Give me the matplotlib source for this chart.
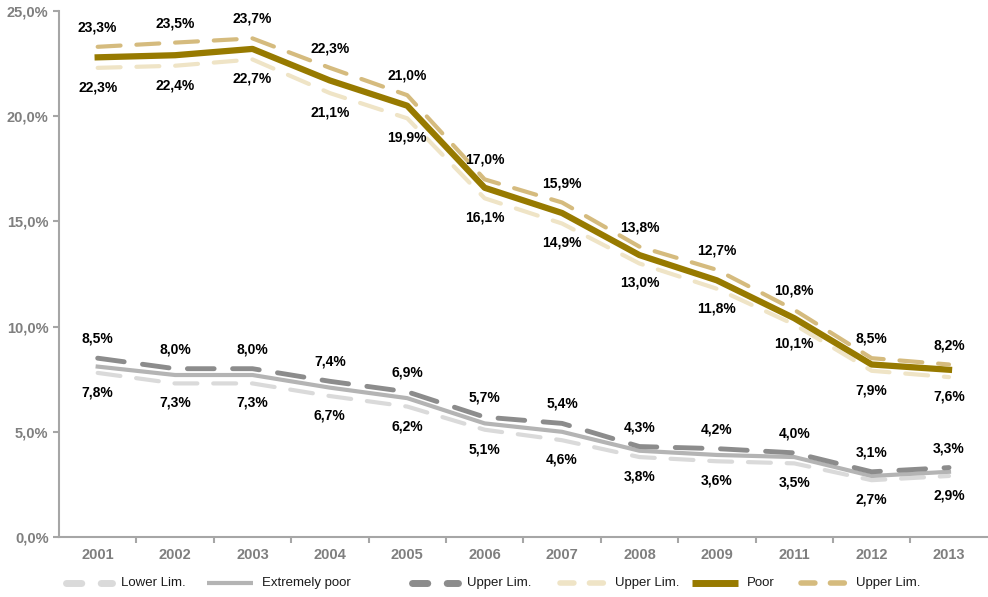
import matplotlib.pyplot as plt
from matplotlib.lines import Line2D

years = ["2001", "2002", "2003", "2004", "2005", "2006", "2007", "2008", "2009", "2011", "2012", "2013"]

# extremely poor
ext_low = [7.8, 7.3, 7.3, 6.7, 6.2, 5.1, 4.6, 3.8, 3.6, 3.5, 2.7, 2.9]
ext_mid = [8.1, 7.7, 7.7, 7.1, 6.6, 5.4, 5.0, 4.1, 3.9, 3.8, 2.9, 3.1]
ext_up = [8.5, 8.0, 8.0, 7.4, 6.9, 5.7, 5.4, 4.3, 4.2, 4.0, 3.1, 3.3]

# poor
poor_low = [22.3, 22.4, 22.7, 21.1, 19.9, 16.1, 14.9, 13.0, 11.8, 10.1, 7.9, 7.6]
poor_mid = [22.8, 22.9, 23.2, 21.7, 20.5, 16.6, 15.4, 13.4, 12.2, 10.4, 8.2, 7.95]
poor_up = [23.3, 23.5, 23.7, 22.3, 21.0, 17.0, 15.9, 13.8, 12.7, 10.8, 8.5, 8.2]

legend_labels = ["Lower Lim.", "Extremely poor", "Upper Lim.", "Upper Lim.", "Poor", "Upper Lim."]

plt.rcParams['font.family'] = ['Liberation Sans', 'DejaVu Sans']

c_ext_low = "#dadada"
c_ext = "#b4b4b4"
c_ext_up = "#8c8c8c"
c_poor_low = "#efe4c6"
c_poor = "#977a00"
c_poor_up = "#d5bb7e"

fig = plt.figure(figsize=(9.88, 5.97), dpi=100)
ax = fig.add_axes([0.0597, 0.1005, 0.94, 0.881])

x = list(range(len(years)))
dash = (5.5, 3.8)

ax.plot(x, ext_low, color=c_ext_low, lw=3, dashes=dash, dash_capstyle="round")
ax.plot(x, ext_mid, color=c_ext, lw=3, solid_joinstyle="round")
ax.plot(x, ext_up, color=c_ext_up, lw=3.5, dashes=dash, dash_capstyle="round")
ax.plot(x, poor_low, color=c_poor_low, lw=3, dashes=dash, dash_capstyle="round")
ax.plot(x, poor_mid, color=c_poor, lw=4.5, solid_joinstyle="round")
ax.plot(x, poor_up, color=c_poor_up, lw=3, dashes=dash, dash_capstyle="round")

def fmt(v):
    return ("%.1f%%" % v).replace(".", ",")

for series, off in [(ext_up, 14), (ext_low, -14), (poor_up, 14), (poor_low, -14)]:
    for i, v in enumerate(series):
        ax.annotate(fmt(v), (i, v), xytext=(0, off), textcoords="offset points",
                    ha="center", va="center", fontsize=10, fontweight="bold", color="black")

ax.set_xlim(-0.5, len(years) - 0.5)
ax.set_ylim(0, 25)
ax.set_yticks([0, 5, 10, 15, 20, 25])
ax.set_yticklabels([fmt(v) for v in [0, 5, 10, 15, 20, 25]])
ax.set_xticks(x)
ax.set_xticklabels(years)
ax.set_xticks([i + 0.5 for i in range(len(years) - 1)], minor=True)
ax.tick_params(axis="x", which="major", length=0, pad=8)
ax.tick_params(axis="x", which="minor", length=4, width=1.5, color="#a6a6a6")
ax.tick_params(axis="y", length=4, width=1.5, color="#a6a6a6")
for lab in ax.get_xticklabels() + ax.get_yticklabels():
    lab.set_fontweight("bold")
    lab.set_color("#7f7f7f")
    lab.set_fontsize(10.5)

for s in ["top", "right"]:
    ax.spines[s].set_visible(False)
for s in ["left", "bottom"]:
    ax.spines[s].set_color("#a6a6a6")
    ax.spines[s].set_linewidth(1.5)

# legend, laid out by hand like the original
leg_styles = [
    dict(color=c_ext_low, lw=5, dashes=(2.2, 2.8)),
    dict(color=c_ext, lw=3),
    dict(color=c_ext_up, lw=5, dashes=(2.2, 2.8)),
    dict(color=c_poor_low, lw=4, dashes=(2.5, 2.8)),
    dict(color=c_poor, lw=5),
    dict(color=c_poor_up, lw=4, dashes=(2.5, 2.8)),
]
leg_x = [66, 207, 412, 560, 692, 801]
leg_y = 1 - 583 / 597
for px, st, lab in zip(leg_x, leg_styles, legend_labels):
    x0 = px / 988
    fig.add_artist(Line2D([x0, x0 + 46 / 988], [leg_y, leg_y], transform=fig.transFigure,
                          solid_capstyle="butt", dash_capstyle="round", **st))
    fig.text(x0 + 55 / 988, leg_y, lab, ha="left", va="center", fontsize=9.5,
             color="#1a1a1a", family=['Liberation Sans Narrow', 'Liberation Sans'])

fig.savefig("out.png", dpi=100)
